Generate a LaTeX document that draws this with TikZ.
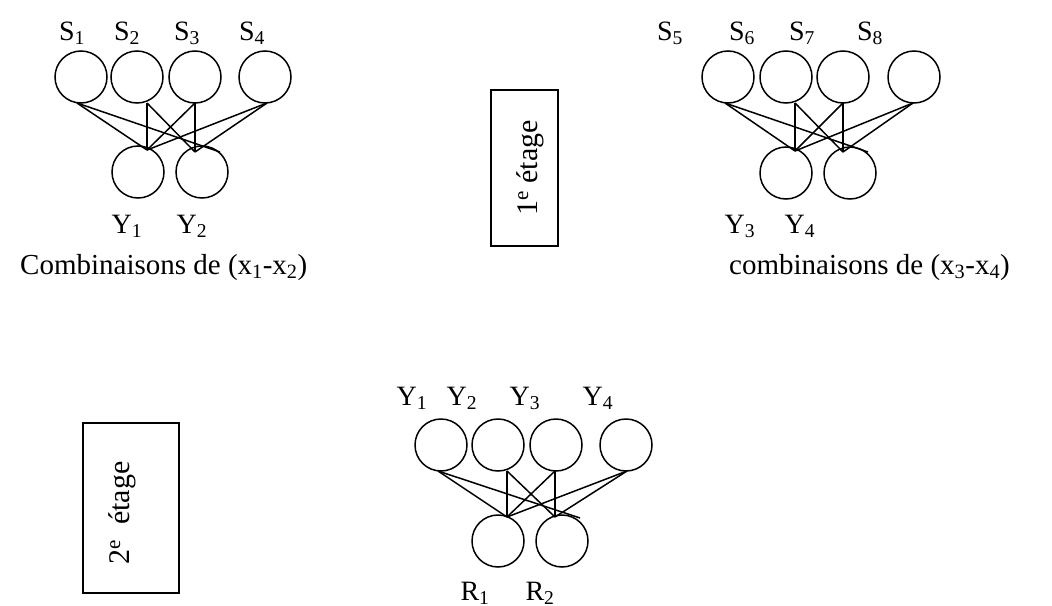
\documentclass[tikz,border=0pt]{standalone}
\usepackage{fontspec}
\setmainfont{Liberation Serif}
\begin{document}
\begin{tikzpicture}[x=1pt,y=-1pt,
  neuron/.style={draw,circle,minimum size=52pt,inner sep=0pt,line width=1.5pt},
  lbl/.style={anchor=base,inner sep=0pt,font=\fontsize{28}{30}\selectfont},
  captxt/.style={anchor=base west,inner sep=0pt,font=\fontsize{29}{32}\selectfont},
  stagetxt/.style={anchor=center,inner sep=0pt,rotate=90,font=\fontsize{30}{32}\selectfont},
  stagebox/.style={draw,line width=1.5pt},
  wire/.style={line width=1.5pt}]
\useasboundingbox (0,0) rectangle (1052,605);
% ---------- group 1 ----------
\node[neuron] (a1) at (81,77) {};
\node[neuron] (a2) at (137,77) {};
\node[neuron] (a3) at (195,77) {};
\node[neuron] (a4) at (265,77) {};
\node[neuron] (ay1) at (138,172) {};
\node[neuron] (ay2) at (202,172) {};
\coordinate (as1) at (77,103);
\coordinate (as2) at (147,103);
\coordinate (as3) at (195,103);
\coordinate (as4) at (267,103);
\coordinate (aj1) at (147,150);
\coordinate (aj2) at (195,152);
\coordinate (aj3) at (220,152);
\draw[wire] (as1) -- (aj1);
\draw[wire] (as1) -- (aj3);
\draw[wire] (as2) -- (aj1);
\draw[wire] (as2) -- (aj2);
\draw[wire] (as3) -- (aj1);
\draw[wire] (as3) -- (aj2);
\draw[wire] (as4) -- (aj1);
\draw[wire] (as4) -- (aj2);
\node[lbl] (la1) at (72,40) {S\textsubscript{1}};
\node[lbl] (la2) at (127,40) {S\textsubscript{2}};
\node[lbl] (la3) at (187,40) {S\textsubscript{3}};
\node[lbl] (la4) at (252,40) {S\textsubscript{4}};
\node[lbl] (lay1) at (127,233) {Y\textsubscript{1}};
\node[lbl] (lay2) at (192,233) {Y\textsubscript{2}};
\node[captxt] (capa) at (20,274) {Combinaisons de (x\textsubscript{1}-x\textsubscript{2})};
% ---------- box 1 ----------
\draw[stagebox] (491,90) rectangle (558,246);
\node[stagetxt] (st1) at (530,168) {1\textsuperscript{e} étage};
% ---------- group 2 ----------
\node[neuron] (b1) at (728,77) {};
\node[neuron] (b2) at (786,77) {};
\node[neuron] (b3) at (843,77) {};
\node[neuron] (b4) at (914,77) {};
\node[neuron] (by1) at (786,173) {};
\node[neuron] (by2) at (850,173) {};
\coordinate (bs1) at (725,103);
\coordinate (bs2) at (795,103);
\coordinate (bs3) at (843,103);
\coordinate (bs4) at (913,103);
\coordinate (bj1) at (795,151);
\coordinate (bj2) at (843,152);
\coordinate (bj3) at (868,152);
\draw[wire] (bs1) -- (bj1);
\draw[wire] (bs1) -- (bj3);
\draw[wire] (bs2) -- (bj1);
\draw[wire] (bs2) -- (bj2);
\draw[wire] (bs3) -- (bj1);
\draw[wire] (bs3) -- (bj2);
\draw[wire] (bs4) -- (bj1);
\draw[wire] (bs4) -- (bj2);
\node[lbl] (lb1) at (670,40) {S\textsubscript{5}};
\node[lbl] (lb2) at (742,40) {S\textsubscript{6}};
\node[lbl] (lb3) at (802,40) {S\textsubscript{7}};
\node[lbl] (lb4) at (870,40) {S\textsubscript{8}};
\node[lbl] (lby1) at (740,233) {Y\textsubscript{3}};
\node[lbl] (lby2) at (800,233) {Y\textsubscript{4}};
\node[captxt] (capb) at (729,274) {combinaisons de (x\textsubscript{3}-x\textsubscript{4})};
% ---------- box 2 ----------
\draw[stagebox] (83,423) rectangle (179,593);
\node[stagetxt] (st2) at (122,513) {2\textsuperscript{e}~~étage};
% ---------- group 3 ----------
\node[neuron] (c1) at (441,445) {};
\node[neuron] (c2) at (498,445) {};
\node[neuron] (c3) at (556,445) {};
\node[neuron] (c4) at (626,445) {};
\node[neuron] (cr1) at (498,541) {};
\node[neuron] (cr2) at (562,541) {};
\coordinate (cs1) at (438,471);
\coordinate (cs2) at (507,471);
\coordinate (cs3) at (555,471);
\coordinate (cs4) at (627,471);
\coordinate (cj1) at (507,517);
\coordinate (cj2) at (555,517);
\coordinate (cj3) at (580,518);
\draw[wire] (cs1) -- (cj1);
\draw[wire] (cs1) -- (cj3);
\draw[wire] (cs2) -- (cj1);
\draw[wire] (cs2) -- (cj2);
\draw[wire] (cs3) -- (cj1);
\draw[wire] (cs3) -- (cj2);
\draw[wire] (cs4) -- (cj1);
\draw[wire] (cs4) -- (cj2);
\node[lbl] (lc1) at (412,405) {Y\textsubscript{1}};
\node[lbl] (lc2) at (462,405) {Y\textsubscript{2}};
\node[lbl] (lc3) at (525,405) {Y\textsubscript{3}};
\node[lbl] (lc4) at (598,405) {Y\textsubscript{4}};
\node[lbl] (lr1) at (475,600) {R\textsubscript{1}};
\node[lbl] (lr2) at (540,600) {R\textsubscript{2}};
\end{tikzpicture}
\end{document}
